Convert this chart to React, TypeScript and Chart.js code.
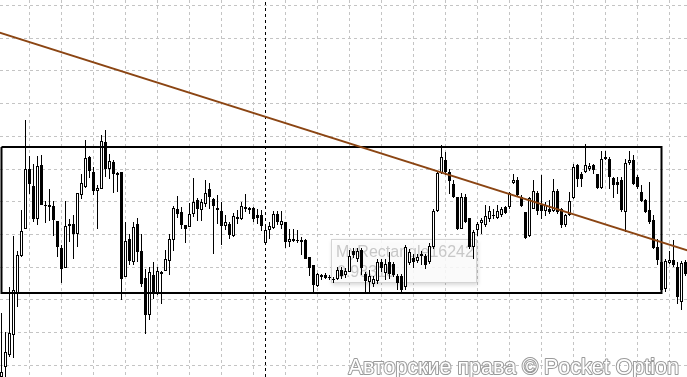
import React, { useEffect, useRef } from 'react';
import { Chart, registerables } from 'chart.js';

Chart.register(...registerables);

// Prices in points (1 point = 0.00001)
const OPEN = [623,633,645,665,706,744,771,831,814,781,835,795,795,794,779,752,732,776,776,766,805,813,843,828,809,811,858,831,838,827,828,723,761,738,776,749,722,685,725,706,726,729,739,760,791,788,775,773,786,800,790,796,811,801,792,789,774,776,764,783,781,793,792,792,785,785,757,770,772,786,775,778,758,761,760,760,760,743,735,714,725,725,723,721,721,730,725,728,749,741,750,726,718,716,719,738,727,738,736,724,724,713,737,742,739,746,744,738,753,789,827,840,828,816,803,771,803,782,753,770,777,775,781,784,782,785,793,793,817,820,803,788,764,791,807,795,789,791,789,809,791,775,785,802,835,826,828,831,835,826,812,841,841,822,818,820,788,837,840,823,808,800,790,780,753,738,711,737,740,733,698,738];
const HIGH = [687,668,713,764,749,790,880,844,836,844,845,799,811,799,779,755,799,781,785,807,826,860,844,833,815,865,870,846,840,828,828,778,766,778,782,766,731,733,738,733,729,750,766,794,804,793,775,797,822,802,801,820,817,802,805,798,785,778,787,790,798,806,793,793,791,790,775,778,789,789,789,778,771,771,770,763,761,743,735,727,726,727,725,723,733,733,732,750,752,752,752,728,730,724,741,741,741,748,738,726,726,755,751,746,746,749,746,757,791,828,855,848,831,820,803,807,806,782,770,778,782,795,794,791,795,793,794,808,826,823,805,788,803,820,809,825,798,800,821,811,792,786,808,836,836,828,856,837,836,826,849,849,843,823,823,823,841,849,845,825,815,801,818,785,761,742,741,749,760,738,739,740];
const LOW = [620,623,643,642,693,743,771,806,778,775,795,777,779,764,743,717,732,758,741,753,801,812,822,805,771,811,823,821,807,808,700,723,735,735,738,713,666,680,701,705,696,729,725,749,782,771,757,773,783,779,779,793,791,746,776,755,770,761,763,776,780,788,786,778,776,769,755,761,771,775,771,752,753,758,757,745,741,724,708,713,720,721,720,717,720,721,722,728,742,738,725,706,708,713,716,728,720,721,723,710,706,710,735,732,737,735,731,736,751,788,826,825,806,802,770,771,777,751,741,764,766,773,778,781,781,783,786,791,816,803,793,761,763,791,785,781,784,786,788,786,772,773,784,801,813,813,827,829,826,811,811,840,811,802,806,788,768,835,815,811,798,787,776,751,735,708,708,736,733,696,690,724];
const CLOSE = [628,648,667,710,745,769,831,816,781,834,795,794,793,780,753,731,774,774,766,807,817,842,829,809,812,859,831,839,826,825,721,759,739,773,748,716,685,728,706,729,728,741,761,792,786,775,771,786,798,791,798,807,803,794,790,774,778,765,784,781,794,791,790,781,782,774,770,774,786,778,779,758,761,759,759,758,741,732,715,726,723,722,722,720,730,724,729,744,745,749,732,719,724,721,738,732,736,726,725,717,710,753,748,738,743,744,735,754,789,827,843,828,819,803,771,803,778,753,768,776,780,784,789,785,789,791,787,807,820,805,794,762,802,809,789,789,795,788,809,788,775,785,799,833,821,821,835,834,830,812,841,843,823,815,815,790,837,840,816,813,799,788,778,752,740,710,739,740,735,703,737,726];

// Grid positions (candle index / price in points)
const GRID_X = [7,15,23,31,39,47,55,63,71,79,87,95,103,111,119,127,135,143,151,159,167];
const GRID_Y = [994.5,961.5,929.5,896.5,863.5,830.5,798.5,765.5,732.5,700.5,667.5,634.5];

// Objects
const RECT_TIME = [0, 165];
const RECT_PRICE = [707, 853];
const TREND_TIME = [-1, 172];
const TREND_PRICE = [968, 749];
const VLINE_TIME = 66;

const X_MIN = -0.375;
const X_MAX = 171.375;
const Y_MIN = 623;
const Y_MAX = 1000;

const RECT_NAME = 'MyRectangle16242';
const RECT_VALUE = '0.98310';
const WATERMARK = 'Авторские права © Pocket Option';

const labelPlugin = {
  id: 'rectLabel',
  beforeDatasetsDraw(chart: any) {
    const ctx = chart.ctx;
    ctx.save();
    const x = 331, y = 239, w = 146, h = 44;
    ctx.shadowColor = 'rgba(0,0,0,0.18)';
    ctx.shadowBlur = 4;
    ctx.shadowOffsetX = 1;
    ctx.shadowOffsetY = 2;
    ctx.fillStyle = 'rgba(255,255,255,0.85)';
    ctx.fillRect(x, y, w, h);
    ctx.shadowColor = 'transparent';
    ctx.strokeStyle = '#d4d4d4';
    ctx.lineWidth = 1;
    ctx.strokeRect(x + 0.5, y + 0.5, w - 1, h - 1);
    ctx.fillStyle = '#c8c8c8';
    ctx.font = '16px "Liberation Sans", Arial, sans-serif';
    ctx.textBaseline = 'alphabetic';
    ctx.fillText(RECT_NAME, 336, 257);
    ctx.fillText(RECT_VALUE, 337, 277);
    ctx.restore();
  },
};

const watermarkPlugin = {
  id: 'watermark',
  afterDraw(chart: any) {
    const ctx = chart.ctx;
    ctx.save();
    ctx.font = '21.5px "Liberation Sans", Arial, sans-serif';
    ctx.textAlign = 'right';
    ctx.textBaseline = 'alphabetic';
    ctx.lineJoin = 'round';
    ctx.strokeStyle = '#9a9a9a';
    ctx.lineWidth = 2;
    ctx.strokeText(WATERMARK, 679, 374);
    ctx.fillStyle = '#ffffff';
    ctx.fillText(WATERMARK, 679, 374);
    ctx.restore();
  },
};

export default function App() {
  const ref = useRef<HTMLCanvasElement | null>(null);
  useEffect(() => {
    if (!ref.current) return;
    const idx = OPEN.map((_, i) => i);
    const bodies = idx.map((i) => ({ x: i, y: [OPEN[i], CLOSE[i]] }));
    const wicks = idx.map((i) => ({ x: i, y: [LOW[i], HIGH[i]] }));
    const rect = [
      { x: RECT_TIME[0], y: RECT_PRICE[1] },
      { x: RECT_TIME[1], y: RECT_PRICE[1] },
      { x: RECT_TIME[1], y: RECT_PRICE[0] },
      { x: RECT_TIME[0], y: RECT_PRICE[0] },
      { x: RECT_TIME[0], y: RECT_PRICE[1] },
    ];
    const trend = TREND_TIME.map((t, i) => ({ x: t, y: TREND_PRICE[i] }));
    const vline = [{ x: VLINE_TIME, y: Y_MIN }, { x: VLINE_TIME, y: Y_MAX }];

    const chart = new Chart(ref.current, {
      type: 'bar',
      data: {
        datasets: [
          {
            type: 'line',
            data: trend,
            borderColor: '#8b4513',
            borderWidth: 2,
            pointRadius: 0,
            order: 0,
          } as any,
          {
            type: 'line',
            data: rect,
            borderColor: '#000000',
            borderWidth: 2,
            pointRadius: 0,
            tension: 0,
            order: 1,
          } as any,
          {
            type: 'bar',
            data: bodies,
            grouped: false,
            barThickness: 3,
            backgroundColor: (c: any) => (CLOSE[c.dataIndex] >= OPEN[c.dataIndex] ? '#ffffff' : '#000000'),
            borderColor: '#000000',
            borderWidth: 1,
            borderSkipped: false,
            inflateAmount: 0,
            order: 2,
          } as any,
          {
            type: 'bar',
            data: wicks,
            grouped: false,
            barThickness: 1,
            backgroundColor: '#000000',
            borderWidth: 0,
            inflateAmount: 0,
            order: 3,
          } as any,
          {
            type: 'line',
            data: vline,
            borderColor: '#000000',
            borderWidth: 1,
            borderDash: [3, 3],
            pointRadius: 0,
            order: 4,
          } as any,
        ],
      },
      options: {
        animation: false,
        responsive: false,
        events: [],
        layout: { padding: 0 },
        plugins: { legend: { display: false }, tooltip: { enabled: false } },
        scales: {
          x: {
            type: 'linear',
            min: X_MIN,
            max: X_MAX,
            offset: false,
            afterBuildTicks: (s: any) => { s.ticks = GRID_X.map((v) => ({ value: v })); },
            ticks: { display: false },
            grid: { color: '#c4c4c4', lineWidth: 1, drawTicks: false, offset: false },
            border: { display: false, dash: [3, 3] },
          },
          y: {
            type: 'linear',
            min: Y_MIN,
            max: Y_MAX,
            afterBuildTicks: (s: any) => { s.ticks = GRID_Y.map((v) => ({ value: v })); },
            ticks: { display: false },
            grid: { color: '#c4c4c4', lineWidth: 1, drawTicks: false },
            border: { display: false, dash: [3, 3] },
          },
        },
      },
      plugins: [labelPlugin, watermarkPlugin],
    } as any);
    return () => chart.destroy();
  }, []);

  return (
    <div style={{ position: 'fixed', left: 0, top: 0, width: 687, height: 377, background: '#fff' }}>
      <canvas ref={ref} width={687} height={377} style={{ display: 'block' }} />
    </div>
  );
}
